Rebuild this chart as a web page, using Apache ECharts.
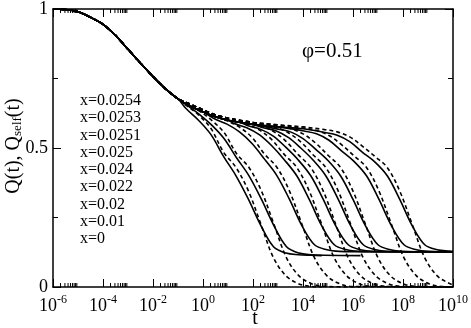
<!DOCTYPE html>
<html><head><meta charset="utf-8">
<script src="https://cdn.jsdelivr.net/npm/echarts@6/dist/echarts.min.js"></script>
<style>html,body{margin:0;padding:0;background:#fff}#c{width:471px;height:328px}</style>
</head><body><div id="c"></div>
<script>
// common short-time decay (log10 t, Q)
const earlyPart = [[-6,1.0],[-5.5,0.998],[-5,0.99],[-4.5,0.97],[-4,0.945],[-3.5,0.905],[-3,0.855],[-2.5,0.805],[-2,0.757],[-1.5,0.713],[-1,0.677]];
// Q(t), solid curves
const Q_x0 = [[-0.68,0.642],[-0.18,0.60],[0.32,0.548],[0.82,0.47],[1.32,0.40],[1.82,0.315],[2.32,0.22],[2.82,0.145],[3.32,0.122],[3.82,0.116],[4.32,0.114],[4.75,0.113]];
const Q_x001 = [[-0.16,0.622],[0.34,0.583],[0.84,0.534],[1.34,0.465],[1.84,0.40],[2.34,0.315],[2.84,0.22],[3.34,0.145],[3.84,0.122],[4.34,0.116],[4.84,0.114],[6.3,0.113]];
const Q_x002 = [[-0.5,0.65],[0,0.63],[0.46,0.605],[0.96,0.586],[1.46,0.558],[1.96,0.516],[2.46,0.46],[2.96,0.40],[3.46,0.315],[3.96,0.22],[4.46,0.152],[4.96,0.134],[5.46,0.128],[5.96,0.127],[10,0.127]];
const Q_x0022 = [[-0.5,0.65],[0,0.63],[0.5,0.612],[1,0.60],[1.25,0.588],[1.75,0.573],[2.25,0.548],[2.75,0.508],[3.25,0.458],[3.75,0.40],[4.25,0.315],[4.75,0.22],[5.25,0.152],[5.75,0.134],[6.25,0.128],[6.75,0.127],[10,0.127]];
const Q_x0024 = [[-0.5,0.65],[0,0.63],[0.5,0.612],[1,0.60],[1.5,0.592],[1.81,0.58],[2.31,0.567],[2.81,0.543],[3.31,0.503],[3.81,0.457],[4.31,0.40],[4.81,0.315],[5.31,0.22],[5.81,0.152],[6.31,0.134],[6.81,0.128],[7.31,0.127],[10,0.127]];
const Q_x0025 = [[-0.5,0.65],[0,0.63],[0.5,0.612],[1,0.60],[1.5,0.592],[2,0.585],[2.41,0.573],[2.91,0.562],[3.41,0.538],[3.91,0.50],[4.41,0.456],[4.91,0.40],[5.41,0.315],[5.91,0.22],[6.41,0.152],[6.91,0.134],[7.41,0.128],[7.91,0.127],[10,0.127]];
const Q_x00251 = [[-0.5,0.65],[0,0.63],[0.5,0.612],[1,0.60],[1.5,0.592],[2,0.585],[3,0.568],[3.5,0.558],[4,0.534],[4.5,0.496],[5,0.455],[5.5,0.40],[6,0.315],[6.5,0.22],[7,0.152],[7.5,0.134],[8,0.128],[8.5,0.127],[10,0.127]];
const Q_x00253 = [[-0.5,0.65],[0,0.63],[0.5,0.612],[1,0.60],[1.5,0.592],[2,0.585],[3,0.576],[4.04,0.561],[4.54,0.551],[5.04,0.528],[5.54,0.49],[6.04,0.452],[6.54,0.40],[7.04,0.315],[7.54,0.22],[8.04,0.152],[8.54,0.134],[9.04,0.128],[9.54,0.127],[10,0.127]];
const Q_x00254 = [[-0.5,0.65],[0,0.63],[0.5,0.612],[1,0.60],[1.5,0.592],[2,0.585],[3,0.576],[4,0.569],[4.87,0.556],[5.37,0.546],[5.87,0.523],[6.37,0.485],[6.87,0.45],[7.37,0.40],[7.87,0.315],[8.37,0.22],[8.87,0.152],[9.37,0.134],[9.87,0.129],[10,0.128]];
// Q_self(t), dashed curves
const S_x0 = [[-0.68,0.654],[-0.18,0.619],[0.32,0.57],[0.82,0.485],[1.32,0.43],[1.82,0.345],[2.32,0.225],[2.82,0.105],[3.32,0.04],[3.82,0.012],[4.32,0.002],[4.75,0]];
const S_x001 = [[-0.16,0.634],[0.34,0.60],[0.84,0.556],[1.34,0.48],[1.84,0.43],[2.34,0.345],[2.84,0.225],[3.34,0.105],[3.84,0.04],[4.34,0.012],[4.84,0.002],[6.3,0]];
const S_x002 = [[-0.5,0.657],[0,0.637],[0.46,0.615],[0.96,0.598],[1.46,0.575],[1.96,0.538],[2.46,0.478],[2.96,0.43],[3.46,0.345],[3.96,0.225],[4.46,0.105],[4.96,0.04],[5.46,0.012],[5.96,0.002],[10,0]];
const S_x0022 = [[-0.5,0.657],[0,0.637],[0.5,0.619],[1,0.607],[1.25,0.598],[1.75,0.585],[2.25,0.565],[2.75,0.53],[3.25,0.477],[3.75,0.43],[4.25,0.345],[4.75,0.225],[5.25,0.105],[5.75,0.04],[6.25,0.012],[6.75,0.002],[10,0]];
const S_x0024 = [[-0.5,0.657],[0,0.637],[0.5,0.619],[1,0.607],[1.5,0.599],[1.81,0.59],[2.31,0.579],[2.81,0.56],[3.31,0.525],[3.81,0.476],[4.31,0.43],[4.81,0.345],[5.31,0.225],[5.81,0.105],[6.31,0.04],[6.81,0.012],[7.31,0.002],[10,0]];
const S_x0025 = [[-0.5,0.657],[0,0.637],[0.5,0.619],[1,0.607],[1.5,0.599],[2,0.592],[2.41,0.583],[2.91,0.574],[3.41,0.555],[3.91,0.522],[4.41,0.475],[4.91,0.43],[5.41,0.345],[5.91,0.225],[6.41,0.105],[6.91,0.04],[7.41,0.012],[7.91,0.002],[10,0]];
const S_x00251 = [[-0.5,0.657],[0,0.637],[0.5,0.619],[1,0.607],[1.5,0.599],[2,0.592],[3,0.578],[3.5,0.57],[4,0.551],[4.5,0.518],[5,0.474],[5.5,0.43],[6,0.345],[6.5,0.225],[7,0.105],[7.5,0.04],[8,0.012],[8.5,0.002],[10,0]];
const S_x00253 = [[-0.5,0.657],[0,0.637],[0.5,0.619],[1,0.607],[1.5,0.599],[2,0.592],[3,0.583],[4.04,0.571],[4.54,0.563],[5.04,0.545],[5.54,0.512],[6.04,0.472],[6.54,0.43],[7.04,0.345],[7.54,0.225],[8.04,0.105],[8.54,0.04],[9.04,0.012],[9.54,0.002],[10,0]];
const S_x00254 = [[-0.5,0.657],[0,0.637],[0.5,0.619],[1,0.607],[1.5,0.599],[2,0.592],[3,0.583],[4,0.576],[4.87,0.566],[5.37,0.558],[5.87,0.54],[6.37,0.507],[6.87,0.47],[7.37,0.43],[7.87,0.345],[8.37,0.225],[8.87,0.105],[9.37,0.04],[9.87,0.012],[10,0.008]];

const solidCurves = [Q_x0, Q_x001, Q_x002, Q_x0022, Q_x0024, Q_x0025, Q_x00251, Q_x00253, Q_x00254];
const dashedCurves = [S_x0, S_x001, S_x002, S_x0022, S_x0024, S_x0025, S_x00251, S_x00253, S_x00254];
const legendLabels = ['x=0.0254','x=0.0253','x=0.0251','x=0.025','x=0.024','x=0.022','x=0.02','x=0.01','x=0'];
const phiLabel = 'φ=0.51';
const xMajorExp = [-6,-4,-2,0,2,4,6,8,10];
const yTickLabels = {0:'0', 0.5:'0.5', 1:'1'};

const FONT = 'Liberation Serif';
const series = [];
dashedCurves.forEach(c => series.push({type:'line', data: earlyPart.concat(c), showSymbol:false, smooth:0.35,
  lineStyle:{color:'#000', width:1.6, type:[4,3]}, silent:true}));
solidCurves.forEach(c => series.push({type:'line', data: earlyPart.concat(c), showSymbol:false, smooth:0.35,
  lineStyle:{color:'#000', width:1.6}, silent:true}));

// Grace-style minor ticks: 2..9 x each major decade
const minorTicks = [];
xMajorExp.slice(0,-1).forEach(n => { for (let k=2;k<=9;k++) minorTicks.push([n+Math.log10(k),0]); });
series.push({type:'custom', data: minorTicks, clip:false, silent:true, z:10,
  renderItem:(params, api) => {
    const v = api.value(0);
    const b = api.coord([v,0]), t = api.coord([v,1]);
    return {type:'group', children:[
      {type:'line', shape:{x1:b[0],y1:b[1],x2:b[0],y2:b[1]-4}, style:{stroke:'#000',lineWidth:1}},
      {type:'line', shape:{x1:t[0],y1:t[1],x2:t[0],y2:t[1]+4}, style:{stroke:'#000',lineWidth:1}}
    ]};
  }});

const chart = echarts.init(document.getElementById('c'), null, {renderer:'canvas'});
const axisLine = {show:true, onZero:false, lineStyle:{color:'#000', width:1.5}};
const graphics = legendLabels.map((s,i) => ({type:'text', left:80, top:102 + i*17.25 - 9,
  style:{text:s, font:'16px "Liberation Serif"', fill:'#000'}}));
graphics.push({type:'text', left:302, top:41, style:{text:phiLabel, font:'21px "Liberation Serif"', fill:'#000'}});
graphics.push({type:'text', x:14, y:146, rotation:Math.PI/2,
  style:{text:'{a|Q(t), Q}{s|self}{a|(t)}', align:'center', verticalAlign:'middle',
    rich:{a:{fontFamily:FONT, fontSize:20, fill:'#000', color:'#000'}, s:{fontFamily:FONT, fontSize:13, color:'#000', padding:[8,0,0,0]}}}});
graphics.push({type:'text', x:255, y:319, style:{text:'t', font:'20px "Liberation Serif"', fill:'#000', align:'center', verticalAlign:'middle'}});

chart.setOption({
  animation:false,
  backgroundColor:'#fff',
  grid:{left:53, right:16, top:6, bottom:41, containLabel:false},
  xAxis:[
    {type:'value', min:-6, max:10, interval:2, position:'bottom', axisLine,
     axisTick:{inside:true, length:8, lineStyle:{color:'#000', width:1}}, splitLine:{show:false},
     axisLabel:{margin:7, formatter:v => '{b|10}{s|' + v + '}',
       rich:{b:{fontFamily:FONT, fontSize:18, color:'#000'}, s:{fontFamily:FONT, fontSize:12, color:'#000', padding:[0,0,12,0]}}}},
    {type:'value', min:-6, max:10, interval:2, position:'top', axisLine,
     axisTick:{inside:true, length:8, lineStyle:{color:'#000', width:1}}, axisLabel:{show:false}, splitLine:{show:false}}
  ],
  yAxis:[
    {type:'value', min:0, max:1, interval:0.5, position:'left', axisLine,
     axisTick:{inside:true, length:8, lineStyle:{color:'#000', width:1}},
     minorTick:{show:true, splitNumber:2, length:5, lineStyle:{color:'#000', width:1}},
     splitLine:{show:false}, minorSplitLine:{show:false},
     axisLabel:{margin:5, fontFamily:FONT, fontSize:18, color:'#000', formatter:v => yTickLabels[v] ?? ''}},
    {type:'value', min:0, max:1, interval:0.5, position:'right', axisLine,
     axisTick:{inside:true, length:8, lineStyle:{color:'#000', width:1}},
     minorTick:{show:true, splitNumber:2, length:5, lineStyle:{color:'#000', width:1}},
     splitLine:{show:false}, axisLabel:{show:false}}
  ],
  graphic: graphics,
  series: series
});
</script></body></html>
